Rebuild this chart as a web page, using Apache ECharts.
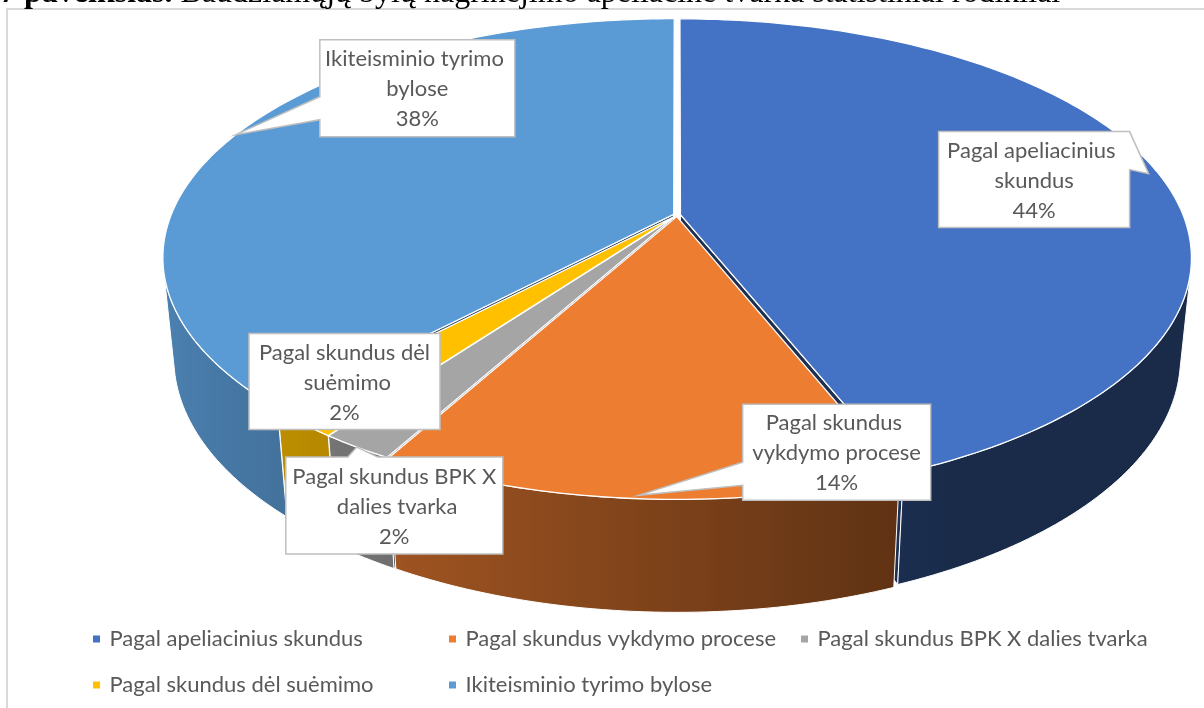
<!DOCTYPE html>
<html><head><meta charset="utf-8">
<script src="https://cdn.jsdelivr.net/npm/echarts@6/dist/echarts.min.js"></script>
<style>html,body{margin:0;padding:0;background:#fff}#c{width:1204px;height:708px}</style>
</head><body><div id="c"></div>
<script>
// ---- data ----
const categories = ['Pagal apeliacinius skundus', 'Pagal skundus vykdymo procese', 'Pagal skundus BPK X dalies tvarka', 'Pagal skundus dėl suėmimo', 'Ikiteisminio tyrimo bylose'];
const values = [44, 14, 2, 2, 38];
const colors = ['#4472C4', '#ED7D31', '#A5A5A5', '#FFC000', '#5B9BD5'];
const titleBold = '7 paveikslas.';
const titleRest = ' Baudžiamųjų bylų nagrinėjimo apeliacine tvarka statistiniai rodikliai';

// ---- layout (3D camera + callout boxes + legend grid) ----
const CAM = {cx: 677, cy: 215, f: 2480, L: 4.934, sinE: 0.46, cosE: 0.888, t: 0.226, explode: 0.007};
const calloutLayout = [
  {r: 0.98, dx: -210, dy: -42, w: 191, h: 96, side: 'right', b1: 0, b2: 38},
  {r: 0.99, dx: 104, dy: -91, w: 188, h: 96, side: 'left', b1: 58, b2: 81},
  {r: 1.0, dx: -71, dy: 10, w: 217, h: 97, side: 'top', b1: 62, b2: 92},
  {r: 1.0, dx: -53, dy: -90, w: 191, h: 96, side: 'none', b1: 0, b2: 0},
  {r: 1.0, dx: 84, dy: -95, w: 195, h: 97, side: 'left', b1: 57, b2: 80}
];
const legendCols = [88, 444, 796];
const legendRows = [623, 669];
const FONT = 'Lato';
const TEXT_COLOR = '#595959';

const RAD = Math.PI / 180;
function proj(X, Z, Y) {
  const d = CAM.L - (Y * CAM.sinE + Z * CAM.cosE);
  return [CAM.cx + CAM.f * X / d, CAM.cy + CAM.f * (Z * CAM.sinE - Y * CAM.cosE) / d];
}
function arcAngles(a0, a1) {
  const n = Math.max(2, Math.ceil((a1 - a0) / 1));
  const arr = [];
  for (let k = 0; k <= n; k++) arr.push(a0 + (a1 - a0) * k / n);
  return arr;
}
function shade(hex, f) {
  const r = parseInt(hex.slice(1, 3), 16), g = parseInt(hex.slice(3, 5), 16), b = parseInt(hex.slice(5, 7), 16);
  return 'rgb(' + Math.round(r * f) + ',' + Math.round(g * f) + ',' + Math.round(b * f) + ')';
}
function wallFactor(a) {
  return Math.min(0.84, Math.max(0.38, 0.52 - 0.32 * Math.sin(a * RAD)));
}
function calloutPoints(bx, by, w, h, side, b1, b2, tip) {
  const p = [[bx, by]];
  if (side === 'top') p.push([bx + b1, by], tip, [bx + b2, by]);
  p.push([bx + w, by]);
  if (side === 'right') p.push([bx + w, by + b1], tip, [bx + w, by + b2]);
  p.push([bx + w, by + h]);
  if (side === 'bottom') p.push([bx + b2, by + h], tip, [bx + b1, by + h]);
  p.push([bx, by + h]);
  if (side === 'left') p.push([bx, by + b2], tip, [bx, by + b1]);
  return p;
}

const visA0 = Math.acos(-1 / (CAM.L * CAM.cosE)) / RAD;
const visA1 = 360 - visA0;

function renderItem(params, api) {
  const i = params.dataIndex;
  const total = values.reduce((s, v) => s + v, 0);
  let before = 0;
  for (let k = 0; k < i; k++) before += values[k];
  const v = api.value(0);
  const start = before / total * 360;
  const end = (before + v) / total * 360;
  const mid = (start + end) / 2;
  const ox = CAM.explode * Math.sin(mid * RAD), oz = -CAM.explode * Math.cos(mid * RAD);
  const rim = (a, Y, r) => { r = r == null ? 1 : r; return proj(ox + r * Math.sin(a * RAD), oz - r * Math.cos(a * RAD), Y); };
  const O = Y => proj(ox, oz, Y);
  const base = colors[i];
  const children = [];
  const Yb = -CAM.t;

  // radial walls
  [[start, -1], [end, 1]].forEach(([a, sg]) => {
    const nX = sg * Math.cos(a * RAD), nZ = sg * Math.sin(a * RAD);
    const vis = (-ox) * nX + (CAM.L * CAM.cosE - oz) * nZ;
    if (vis > 0) {
      children.push({type: 'polygon', z2: 10,
        shape: {points: [O(0), rim(a, 0), rim(a, Yb), O(Yb)]},
        style: {fill: shade(base, 0.42), stroke: '#fff', lineWidth: 1}});
    }
  });

  // outer wall
  const vs = Math.max(start, visA0), ve = Math.min(end, visA1);
  if (ve > vs) {
    const angs = arcAngles(vs, ve);
    const topPts = angs.map(a => rim(a, 0));
    const botPts = angs.map(a => rim(a, Yb)).reverse();
    const pts = topPts.concat(botPts);
    const xs = pts.map(p => p[0]);
    const minX = Math.min.apply(null, xs), maxX = Math.max.apply(null, xs);
    const span = Math.max(1e-6, maxX - minX);
    const stops = angs.map((a, k) => ({offset: Math.min(1, Math.max(0, (topPts[k][0] - minX) / span)), color: shade(base, wallFactor(a))}));
    stops.sort((p, q) => p.offset - q.offset);
    children.push({type: 'polygon', z2: 20, shape: {points: pts},
      style: {fill: {type: 'linear', x: 0, y: 0, x2: 1, y2: 0, colorStops: stops}, stroke: '#fff', lineWidth: 1}});
  }

  // top face
  const topFace = [O(0)].concat(arcAngles(start, end).map(a => rim(a, 0)));
  children.push({type: 'polygon', z2: 30, shape: {points: topFace},
    style: {fill: base, stroke: '#fff', lineWidth: 1.3}});

  // callout
  const lay = calloutLayout[i];
  const tip = rim(mid, 0, lay.r);
  const bx = tip[0] + lay.dx, by = tip[1] + lay.dy;
  const pct = Math.round(v / total * 100) + '%';
  children.push({type: 'polygon', z2: 50,
    shape: {points: calloutPoints(bx, by, lay.w, lay.h, lay.side, lay.b1, lay.b2, tip)},
    style: {fill: '#fff', stroke: '#bfbfbf', lineWidth: 1.5}});
  children.push({type: 'text', z2: 51,
    style: {x: bx + lay.w / 2, y: by + lay.h / 2 + 1, text: categories[i] + '\n' + pct,
      align: 'center', verticalAlign: 'middle', width: lay.w - 8, overflow: 'break',
      fontFamily: FONT, fontSize: 22, lineHeight: 30, fill: TEXT_COLOR}});

  return {type: 'group', children: children};
}

const chart = echarts.init(document.getElementById('c'), null, {renderer: 'canvas'});
const legends = categories.map((name, i) => ({
  data: [name],
  left: legendCols[i % 3], top: legendRows[Math.floor(i / 3)],
  orient: 'horizontal', icon: 'path://M0,0L10,0L10,10L0,10Z', itemWidth: 16, itemHeight: 7,
  symbolKeepAspect: true, selectedMode: false,
  textStyle: {fontFamily: FONT, fontSize: 22, color: TEXT_COLOR}
}));
chart.setOption({
  animation: false,
  backgroundColor: '#fff',
  color: colors,
  graphic: [
    {type: 'rect', silent: true, z: 0, shape: {x: 7, y: 9, width: 1400, height: 900},
      style: {fill: 'none', stroke: '#d9d9d9', lineWidth: 2}},
    {type: 'text', silent: true, x: 0, y: -6,
      style: {text: '{b|' + titleBold + '}' + titleRest, fontFamily: 'Liberation Serif', fontSize: 32, fill: '#000',
        verticalAlign: 'middle', rich: {b: {fontWeight: 'bold', fontFamily: 'Liberation Serif', fontSize: 32, fill: '#000'}}}}
  ],
  legend: legends,
  series: [
    {type: 'pie', name: 'legend', radius: [0, 0], center: [-50, -50], silent: true,
      label: {show: false}, labelLine: {show: false},
      data: categories.map((n, i) => ({name: n, value: values[i], itemStyle: {color: colors[i]}}))},
    {type: 'custom', name: '3d', coordinateSystem: 'none', silent: true,
      renderItem: renderItem,
      data: categories.map((n, i) => ({name: n, value: [values[i]]}))}
  ]
});
</script>
</body></html>
